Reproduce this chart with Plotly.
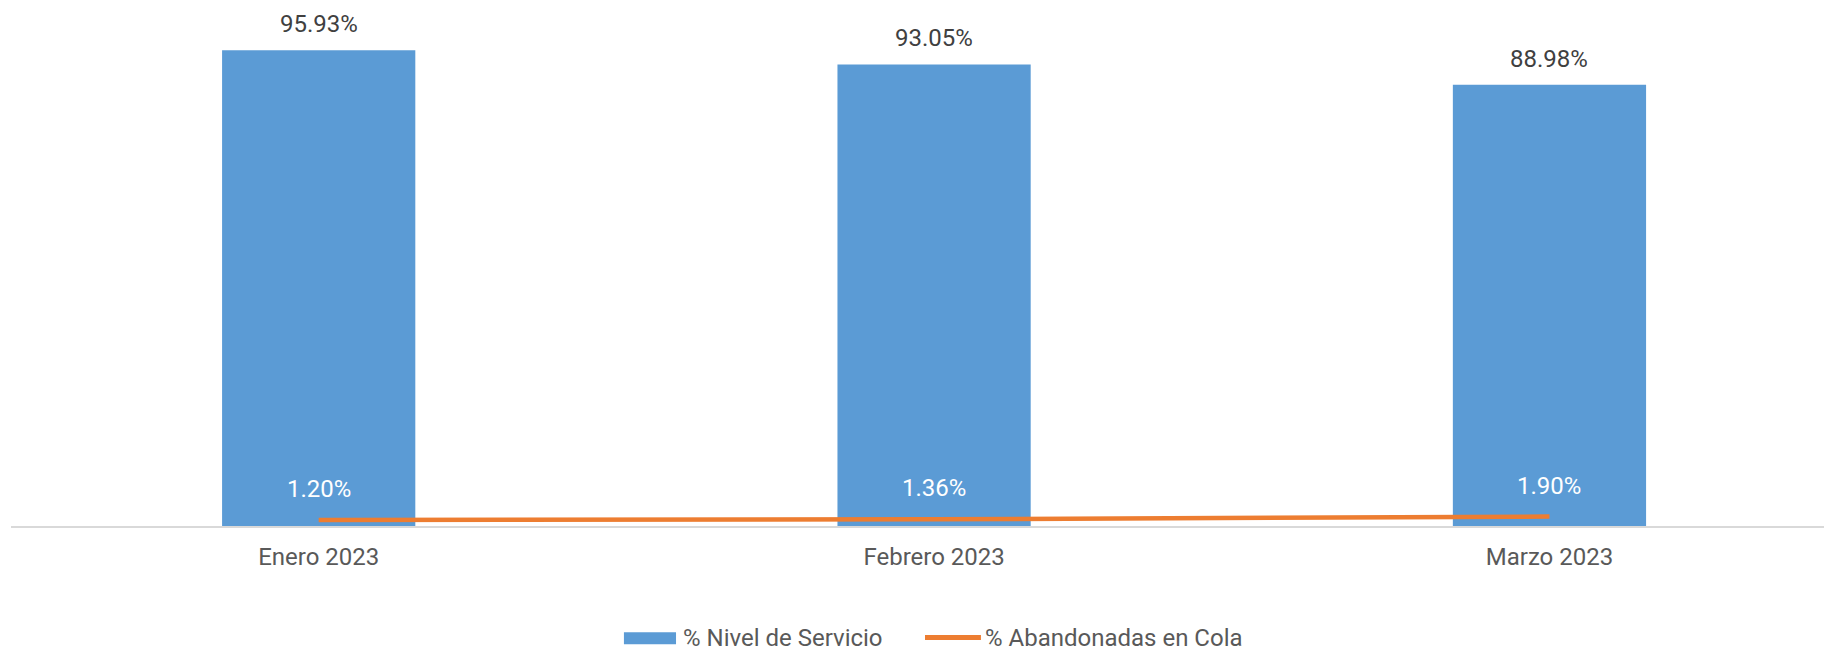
import plotly.graph_objects as go

categories = ["Enero 2023", "Febrero 2023", "Marzo 2023"]
nivel_servicio = [95.93, 93.05, 88.98]
abandonadas = [1.20, 1.36, 1.90]
nivel_labels = ["95.93%", "93.05%", "88.98%"]
aband_labels = ["1.20%", "1.36%", "1.90%"]
series_names = ["% Nivel de Servicio", "% Abandonadas en Cola"]

BLUE = "#5B9BD5"
ORANGE = "#ED7D31"
FONT = "Roboto"

fig = go.Figure()
fig.add_trace(go.Bar(
    x=categories, y=nivel_servicio, name=series_names[0],
    marker=dict(color=BLUE, line=dict(width=0)), width=0.314,
))
fig.add_trace(go.Scatter(
    x=categories, y=abandonadas, name=series_names[1],
    mode="lines", line=dict(color=ORANGE, width=4.5),
))

annotations = []
for c, v, t in zip(categories, nivel_servicio, nivel_labels):
    annotations.append(dict(x=c, y=v, text=t, showarrow=False, yanchor="middle",
                            yshift=26, font=dict(family=FONT, size=24, color="#404040")))
for c, v, t in zip(categories, abandonadas, aband_labels):
    annotations.append(dict(x=c, y=v, text=t, showarrow=False, yanchor="middle",
                            yshift=31, font=dict(family=FONT, size=24, color="#FFFFFF")))

# custom legend (paper coordinates)
leg_y = -0.2161
annotations.append(dict(xref="paper", yref="paper", x=0.3675, y=leg_y, xanchor="left",
                        yanchor="middle", text=series_names[0], showarrow=False,
                        xshift=-2, font=dict(family=FONT, size=24, color="#595959")))
annotations.append(dict(xref="paper", yref="paper", x=0.5328, y=leg_y, xanchor="left",
                        yanchor="middle", text=series_names[1], showarrow=False,
                        xshift=-2, font=dict(family=FONT, size=24, color="#595959")))
shapes = [
    dict(type="rect", xref="paper", yref="paper", x0=0.3353, x1=0.3638,
         y0=-0.2293, y1=-0.2060, fillcolor=BLUE, line=dict(width=0)),
    dict(type="line", xref="paper", yref="paper", x0=0.5, x1=0.5306,
         y0=leg_y, y1=leg_y, line=dict(color=ORANGE, width=5)),
]

fig.update_layout(
    width=1832, height=649,
    margin=dict(l=3, r=1, t=2, b=131),
    paper_bgcolor="white", plot_bgcolor="white",
    font=dict(family=FONT, color="#595959"),
    showlegend=False,
    annotations=annotations,
    shapes=shapes,
)
fig.update_xaxes(
    type="category", range=[-0.5, 2.4705],
    showline=True, linecolor="#D9D9D9", linewidth=2,
    showgrid=False, ticks="", ticklabelstandoff=8,
    tickfont=dict(family=FONT, size=24, color="#595959"),
)
fig.update_yaxes(
    range=[0, 104.03], visible=False, showgrid=False, zeroline=False,
)

fig.write_html("out.html")
